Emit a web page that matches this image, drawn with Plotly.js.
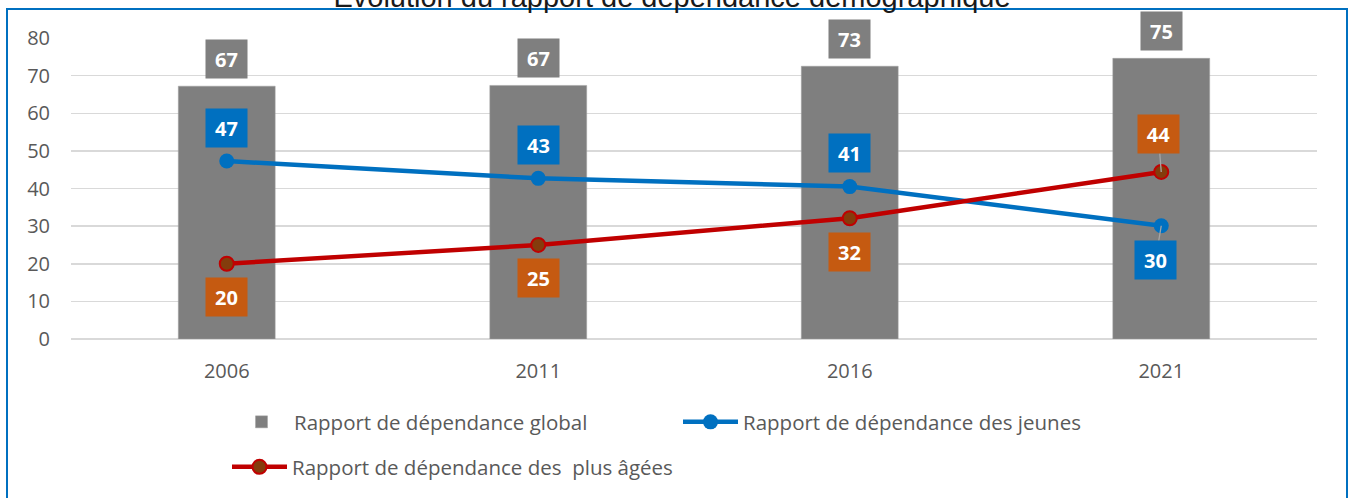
<!DOCTYPE html>
<html><head><meta charset="utf-8">
<script src="https://cdn.plot.ly/plotly-3.0.1.min.js"></script>
<style>html,body{margin:0;padding:0;background:#fff}#chart{width:1351px;height:498px}</style>
</head><body><div id="chart"></div>
<script>
// ---- data ----
const years = ['2006', '2011', '2016', '2021'];
const globalRatio = [67.2, 67.4, 72.5, 74.6];
const youngRatio = [47.3, 42.7, 40.5, 30.1];
const elderlyRatio = [20.0, 25.0, 32.1, 44.4];
const yTickVals = [0, 10, 20, 30, 40, 50, 60, 70, 80];
const seriesNames = ['Rapport de dépendance global', 'Rapport de dépendance des jeunes', 'Rapport de dépendance des\u00a0 plus âgées'];
const titleText = 'Évolution du rapport de dépendance démographique';

// ---- label placement (style, not data) ----
const youngLabelShift = [33.5, 33.5, 33.5, -34];
const elderlyLabelShift = [-33.5, -33.5, -33.5, 37.7];
const youngLeader = [null, null, null, {ax: -5.7}];
const elderlyLeader = [null, null, null, {ax: -3}];

const W = 1351, H = 498;
const M = {l: 71, r: 34, t: 38, b: 159};
const plotW = W - M.l - M.r, plotH = H - M.t - M.b;
const px2x = p => (p - M.l) / plotW;
const px2y = p => (H - M.b - p) / plotH;

const GRAY = '#7F7F7F', BLUE = '#0070C0', ORANGE = '#C55A11', RED = '#C00000', BROWN = '#843C0C';
const TXT = '#595959';
const FONT = 'Open Sans, sans-serif';

const traces = [
  {type: 'bar', name: seriesNames[0], x: years, y: globalRatio,
   marker: {color: GRAY, line: {color: '#A0A0A0', width: 0.5}}, legend: 'legend'},
  {type: 'scatter', mode: 'lines+markers', name: seriesNames[1], x: years, y: youngRatio,
   line: {color: BLUE, width: 4.5}, marker: {color: BLUE, size: 15}, legend: 'legend2'},
  {type: 'scatter', mode: 'lines+markers', name: seriesNames[2], x: years, y: elderlyRatio,
   line: {color: RED, width: 4.5}, marker: {color: BROWN, size: 14, line: {color: RED, width: 2}}, legend: 'legend3'}
];

// x of an annotation on a category axis = the category's index
function boxLabel(catIndex, y, val, color, shift, leader) {
  const a = {x: catIndex, y: y, xref: 'x', yref: 'y', text: String(Math.round(val)),
    font: {family: FONT, size: 20, color: '#FFFFFF', weight: 'bold'},
    bgcolor: color, width: 41, height: 38, borderpad: 0, valign: 'middle', align: 'center'};
  if (leader) {
    a.showarrow = true; a.arrowhead = 0; a.arrowwidth = 1.3; a.arrowcolor = '#A6A6A6';
    a.axref = 'pixel'; a.ayref = 'pixel'; a.ax = leader.ax; a.ay = -shift; a.standoff = 0;
  } else {
    a.showarrow = false; a.yshift = shift;
  }
  return a;
}

const annotations = [];
years.forEach((yr, i) => {
  annotations.push(boxLabel(i, globalRatio[i], globalRatio[i], GRAY, 27, null));
  annotations.push(boxLabel(i, youngRatio[i], youngRatio[i], BLUE, youngLabelShift[i], youngLeader[i]));
  annotations.push(boxLabel(i, elderlyRatio[i], elderlyRatio[i], ORANGE, elderlyLabelShift[i], elderlyLeader[i]));
});

const legendBase = {orientation: 'h', xref: 'container', yref: 'container', xanchor: 'left', yanchor: 'middle',
  font: {family: FONT, size: 20.5, color: TXT}, itemwidth: 55, bgcolor: 'rgba(0,0,0,0)', borderwidth: 0};

const layout = {
  width: W, height: H,
  margin: M,
  paper_bgcolor: '#FFFFFF', plot_bgcolor: '#FFFFFF',
  title: {text: titleText, font: {family: 'Liberation Sans, Arial, sans-serif', size: 29, color: '#1A1A1A'},
          xref: 'container', yref: 'container', x: 672 / W, xanchor: 'center', y: 1 - 7 / H, yanchor: 'bottom', pad: {b: 0, t: 0}},
  bargap: 0.689,
  showlegend: true,
  xaxis: {type: 'category', categoryorder: 'array', categoryarray: years, range: [-0.5, years.length - 0.5], autorange: false,
          showgrid: false, zeroline: false, showline: false, ticks: '',
          tickfont: {family: FONT, size: 20, color: TXT}, ticklabelstandoff: 18, fixedrange: true},
  yaxis: {range: [0, 80], autorange: false, tickvals: yTickVals, showgrid: true, gridcolor: '#D9D9D9', gridwidth: 1.5,
          zeroline: true, zerolinecolor: '#D9D9D9', zerolinewidth: 1.5, showline: false, ticks: '',
          tickfont: {family: FONT, size: 20, color: TXT}, ticklabelstandoff: 20, fixedrange: true},
  legend: Object.assign({}, legendBase, {x: 229 / W, y: 1 - 422 / H}),
  legend2: Object.assign({}, legendBase, {x: 678 / W, y: 1 - 422 / H}),
  legend3: Object.assign({}, legendBase, {x: 227 / W, y: 1 - 467 / H}),
  annotations: annotations,
  shapes: [{type: 'rect', xref: 'paper', yref: 'paper', x0: px2x(7), x1: px2x(1347), y0: px2y(520), y1: px2y(9),
            line: {color: BLUE, width: 2}, fillcolor: 'rgba(0,0,0,0)', layer: 'below'}]
};

Plotly.newPlot('chart', traces, layout, {displayModeBar: false, staticPlot: true});
</script></body></html>
